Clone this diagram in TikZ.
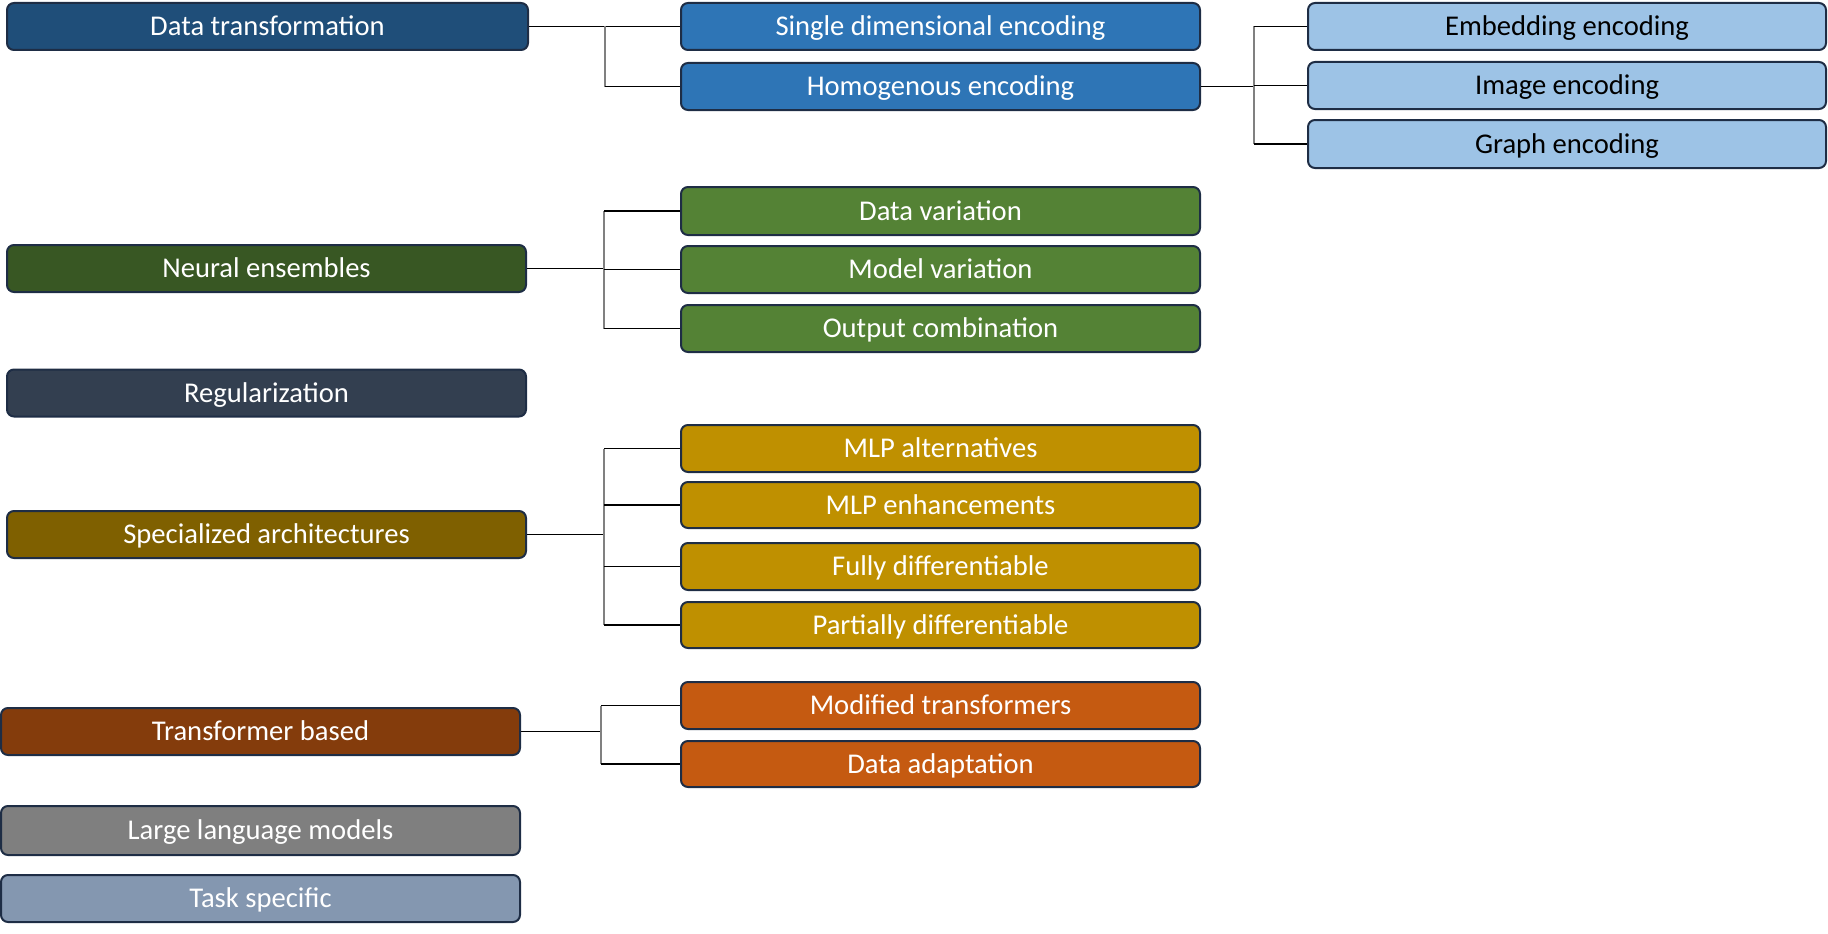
\documentclass[tikz,border=0pt]{standalone}
\usepackage{fontspec}
\setmainfont{Carlito}
\definecolor{cBorder}{HTML}{1E2D45}
\definecolor{cDT}{HTML}{1F4E79}
\definecolor{cBlue}{HTML}{2E75B6}
\definecolor{cLight}{HTML}{9DC3E6}
\definecolor{cNE}{HTML}{385723}
\definecolor{cGreen}{HTML}{548235}
\definecolor{cReg}{HTML}{333F50}
\definecolor{cSA}{HTML}{7F6000}
\definecolor{cGold}{HTML}{BF9000}
\definecolor{cTB}{HTML}{843C0C}
\definecolor{cOrange}{HTML}{C55A11}
\definecolor{cLLM}{HTML}{7F7F7F}
\definecolor{cTS}{HTML}{8497B0}
\tikzset{
  box/.style={draw=cBorder, line width=2pt, rounded corners=7pt, inner sep=0pt,
    minimum height=47pt, text=white, text height=18pt, text depth=0pt,
    font=\fontsize{28.6pt}{34pt}\selectfont},
  leftbox/.style={box, minimum width=519pt},
  midbox/.style={box, minimum width=519pt},
  rightbox/.style={box, minimum width=518pt, text=black},
  hline/.style={draw=black, line width=1.6pt},
  vline/.style={draw=gray, line width=1.6pt},
}
\begin{document}
\begin{tikzpicture}[x=1pt,y=-1pt]
\useasboundingbox (0,0) rectangle (1828,934);
% left column
\node[leftbox, fill=cDT, minimum width=521pt] (dt) at (267.5,26.5) {Data transformation};
\node[leftbox, fill=cNE] (ne) at (266.5,268.5) {Neural ensembles};
\node[leftbox, fill=cReg] (reg) at (266.5,393) {Regularization};
\node[leftbox, fill=cSA] (sa) at (266.5,534.5) {Specialized architectures};
\node[leftbox, fill=cTB] (tb) at (260.5,731.5) {Transformer based};
\node[leftbox, fill=cLLM, minimum height=49pt] (llm) at (260.5,830.5) {Large language models};
\node[leftbox, fill=cTS] (ts) at (260.5,898.5) {Task specific};
% middle column
\node[midbox, fill=cBlue] (sde) at (940.5,26.5) {Single dimensional encoding};
\node[midbox, fill=cBlue] (he) at (940.5,86.5) {Homogenous encoding};
\node[midbox, fill=cGreen, minimum height=48pt] (dv) at (940.5,211) {Data variation};
\node[midbox, fill=cGreen] (mv) at (940.5,269.5) {Model variation};
\node[midbox, fill=cGreen] (oc) at (940.5,328.5) {Output combination};
\node[midbox, fill=cGold] (mlpa) at (940.5,448.5) {MLP alternatives};
\node[midbox, fill=cGold, minimum height=46pt] (mlpe) at (940.5,505) {MLP enhancements};
\node[midbox, fill=cGold] (fd) at (940.5,566.5) {Fully differentiable};
\node[midbox, fill=cGold, minimum height=46pt] (pd) at (940.5,625) {Partially differentiable};
\node[midbox, fill=cOrange] (mt) at (940.5,705.5) {Modified transformers};
\node[midbox, fill=cOrange, minimum height=46pt] (da) at (940.5,764) {Data adaptation};
% right column
\node[rightbox, fill=cLight] (ee) at (1567,26.5) {Embedding encoding};
\node[rightbox, fill=cLight] (ie) at (1567,85.5) {Image encoding};
\node[rightbox, fill=cLight, minimum height=48pt] (ge) at (1567,144) {Graph encoding};
% junction coordinates
\coordinate (j1) at (605,0);
\coordinate (j2) at (1254,0);
\coordinate (j3) at (604,0);
\coordinate (j4) at (604,0);
\coordinate (j5) at (601,0);
% Data transformation
\draw[hline] (dt.east) -- (sde.west);
\draw[vline] (dt.east -| j1) -- (he.west -| j1);
\draw[hline] (he.west -| j1) -- (he.west);
% Homogenous encoding
\draw[hline] (he.east) -- (he.east -| j2);
\draw[vline] (ee.west -| j2) -- (ge.west -| j2);
\draw[hline] (ee.west -| j2) -- (ee.west);
\draw[hline] (ie.west -| j2) -- (ie.west);
\draw[hline] (ge.west -| j2) -- (ge.west);
% Neural ensembles
\draw[hline] (ne.east) -- (ne.east -| j3);
\draw[vline] (dv.west -| j3) -- (oc.west -| j3);
\draw[hline] (dv.west -| j3) -- (dv.west);
\draw[hline] (mv.west -| j3) -- (mv.west);
\draw[hline] (oc.west -| j3) -- (oc.west);
% Specialized architectures
\draw[hline] (sa.east) -- (sa.east -| j4);
\draw[vline] (mlpa.west -| j4) -- (pd.west -| j4);
\draw[hline] (mlpa.west -| j4) -- (mlpa.west);
\draw[hline] (mlpe.west -| j4) -- (mlpe.west);
\draw[hline] (fd.west -| j4) -- (fd.west);
\draw[hline] (pd.west -| j4) -- (pd.west);
% Transformer based
\draw[hline] (tb.east) -- (tb.east -| j5);
\draw[vline] (mt.west -| j5) -- (da.west -| j5);
\draw[hline] (mt.west -| j5) -- (mt.west);
\draw[hline] (da.west -| j5) -- (da.west);
\end{tikzpicture}
\end{document}
